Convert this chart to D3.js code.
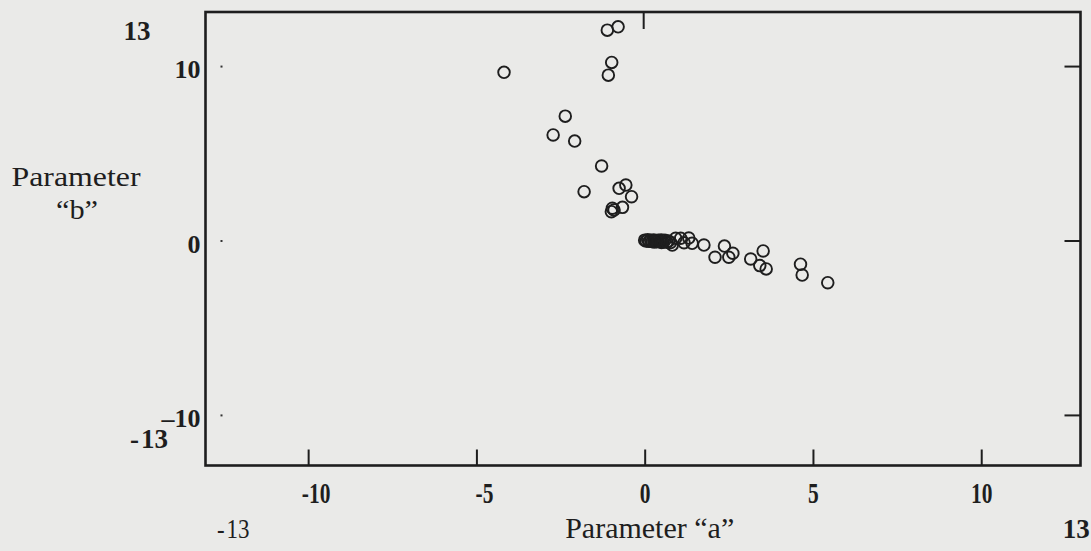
<!DOCTYPE html>
<html>
<head>
<meta charset="utf-8">
<script src="https://cdn.jsdelivr.net/npm/d3@7"></script>
<style>
  html, body { margin: 0; padding: 0; background: #eaeae8; }
  svg { display: block; }
  text { font-family: "Liberation Serif", "DejaVu Serif", serif; fill: #1e1e1e; }
</style>
</head>
<body>
<svg id="chart" width="1091" height="551"></svg>
<script>
// ---- data ----
const xTicks = [-10, -5, 0, 5, 10];
const yTicks = [10, 0, -10];
const rangeLabels = ["-13", "13"];
const xTitle = "Parameter \u201ca\u201d";
const yTitle = ["Parameter", "\u201cb\u201d"];

// parameter a values
const aValues = [
  -4.18, -1.11, -0.79, -0.98, -1.08, -2.36, -2.72, -2.08, -1.28, -1.80,
  -0.76, -0.56, -0.39, -0.66, -0.96, -0.99, -0.91,
  1.76, 2.09, 2.37, 2.50, 2.62, 3.15, 3.52, 3.42, 3.61, 4.63, 4.68, 5.44,
  0.00, 0.04, 0.09, 0.13, 0.18, 0.22, 0.27, 0.31, 0.36, 0.40, 0.45, 0.49,
  0.55, 0.60, 0.66, 0.71, 0.77, 0.82, 0.92, 1.07, 1.17, 1.31, 1.41, 0.50, 0.28
];
// parameter b values
const bValues = [
  9.64, 12.06, 12.25, 10.21, 9.48, 7.13, 6.05, 5.70, 4.27, 2.80,
  2.99, 3.18, 2.51, 1.90, 1.85, 1.65, 1.75,
  -0.26, -0.96, -0.32, -0.96, -0.73, -1.06, -0.60, -1.44, -1.63, -1.36, -1.98, -2.42,
  0.02, -0.03, 0.04, -0.05, 0.01, -0.06, 0.03, -0.02, -0.07, 0.02, -0.04, 0.03,
  -0.08, 0.01, -0.10, -0.03, -0.12, -0.26, 0.13, 0.13, -0.13, 0.14, -0.16, -0.12, -0.09
];

const svg = d3.select("#chart");
const L = 205.5, R = 1080.5, T = 12, B = 465.5;

const x = d3.scaleLinear().domain([-13.05, 12.95]).range([L, R]);
const y = d3.scaleLinear().domain([-12.9, 13.1]).range([B, T]);
const ink = "#1e1e1e";

// frame
svg.append("rect")
  .attr("x", L).attr("y", T).attr("width", R - L).attr("height", B - T)
  .attr("fill", "none").attr("stroke", ink).attr("stroke-width", 2.6);

// bottom axis: ticks pointing up, condensed bold labels below
const gx = svg.append("g").attr("transform", `translate(0,${B})`)
  .call(d3.axisBottom(x).tickValues(xTicks).tickSize(-16).tickPadding(17)
        .tickFormat(d => d < 0 ? "-" + Math.abs(d) : String(d)));
gx.select(".domain").remove();
gx.selectAll(".tick line").attr("stroke", ink).attr("stroke-width", 2);
gx.selectAll(".tick text")
  .attr("font-size", 29).attr("font-weight", "bold")
  .attr("dx", d => d < 0 ? "0.35em" : 0)
  .attr("transform", "scale(0.74,1)");

// top tick at x = 0 only
const gt = svg.append("g").attr("transform", `translate(0,${T})`)
  .call(d3.axisTop(x).tickValues([0]).tickSize(-17).tickFormat(""));
gt.select(".domain").remove();
gt.selectAll(".tick line").attr("stroke", ink).attr("stroke-width", 2)
  .attr("transform", "translate(-1.5,0)");

// right axis: ticks pointing inward, no labels
const gr = svg.append("g").attr("transform", `translate(${R},0)`)
  .call(d3.axisRight(y).tickValues(yTicks).tickSize(-16).tickFormat(""));
gr.select(".domain").remove();
gr.selectAll(".tick line").attr("stroke", ink).attr("stroke-width", 2);

// left axis: tiny dots inside frame, bold labels outside
const gl = svg.append("g").attr("transform", `translate(${L + 17},0)`)
  .call(d3.axisLeft(y).tickValues(yTicks).tickSize(2).tickPadding(20)
        .tickFormat(d => d < 0 ? "\u2013" + Math.abs(d) : String(d)));
gl.select(".domain").remove();
gl.selectAll(".tick line").attr("stroke", "#333").attr("stroke-width", 2);
gl.selectAll(".tick text").attr("font-size", 26).attr("font-weight", "bold")
  .attr("dy", "0.45em");

// range-end labels
svg.append("text").attr("x", 137).attr("y", y(13) + 26)
  .attr("text-anchor", "middle").attr("font-size", 27).attr("font-weight", "bold")
  .text(rangeLabels[1]);
svg.append("text").attr("x", 149).attr("y", y(-13) - 19)
  .attr("text-anchor", "middle").attr("font-size", 27).attr("font-weight", "bold")
  .text("-\u200a" + rangeLabels[1]);
const bx = x(-13) + 26;
svg.append("text").attr("x", bx).attr("y", 538)
  .attr("text-anchor", "middle").attr("font-size", 27)
  .attr("transform", `translate(${bx},0) scale(0.85,1) translate(${-bx},0)`)
  .text("-\u200a" + rangeLabels[1]);
svg.append("text").attr("x", x(13) - 6).attr("y", 538)
  .attr("text-anchor", "middle").attr("font-size", 27).attr("font-weight", "bold")
  .text(rangeLabels[1]);

// titles
svg.append("text").attr("x", x(0) + 5).attr("y", 538)
  .attr("text-anchor", "middle").attr("font-size", 30)
  .text(xTitle);
svg.append("text").attr("x", 76).attr("y", 186)
  .attr("text-anchor", "middle").attr("font-size", 28)
  .attr("textLength", 129).attr("lengthAdjust", "spacingAndGlyphs")
  .text(yTitle[0]);
svg.append("text").attr("x", 77).attr("y", 219)
  .attr("text-anchor", "middle").attr("font-size", 28)
  .attr("textLength", 42).attr("lengthAdjust", "spacingAndGlyphs")
  .text(yTitle[1]);

// points
const pts = aValues.map((a, i) => ({a, b: bValues[i]}));
svg.append("g").selectAll("circle").data(pts).join("circle")
  .attr("cx", d => x(d.a)).attr("cy", d => y(d.b)).attr("r", 5.8)
  .attr("fill", "none").attr("stroke", ink).attr("stroke-width", 1.9);
</script>
</body>
</html>
